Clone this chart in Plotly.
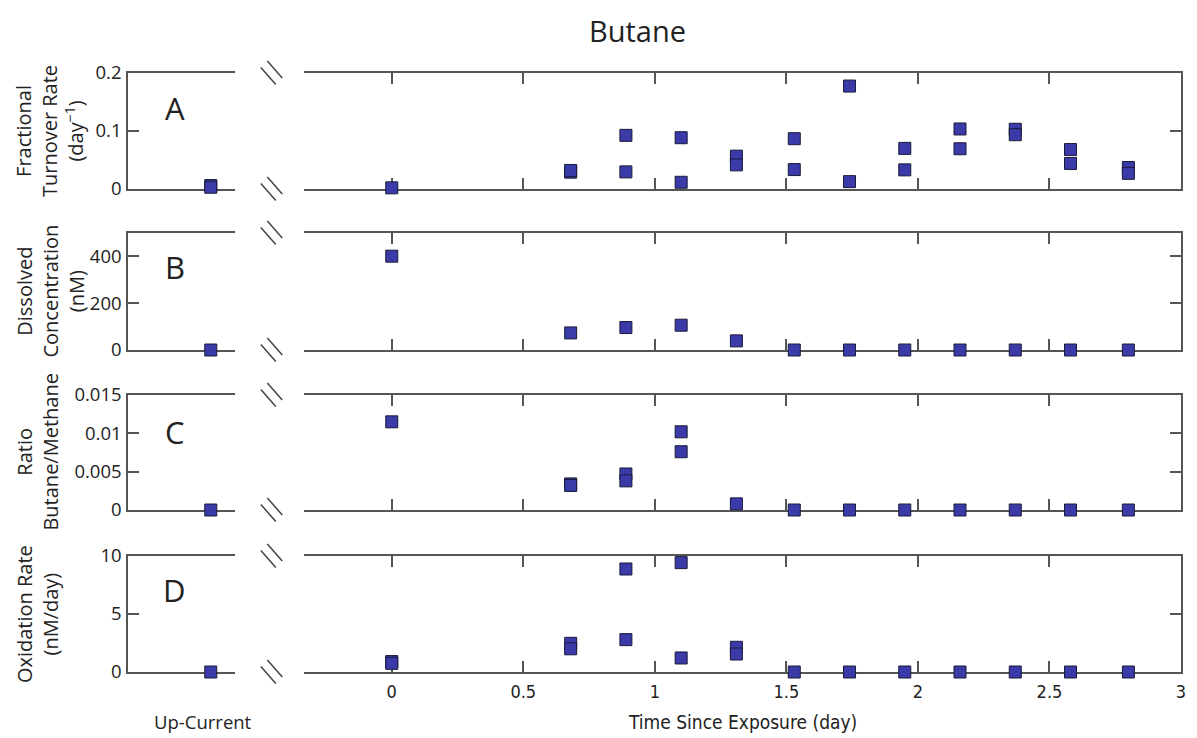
import plotly.graph_objects as go

# ---------------- data ----------------
time_days = [0.0, 0.68, 0.68, 0.89, 0.89, 1.10, 1.10, 1.31, 1.31, 1.53, 1.53, 1.74, 1.74,
             1.95, 1.95, 2.16, 2.16, 2.37, 2.37, 2.58, 2.58, 2.80, 2.80]
turnover = [0.002, 0.029, 0.032, 0.0925, 0.0295, 0.0884, 0.0116, 0.0566, 0.0416, 0.0867, 0.0335,
            0.1775, 0.0127, 0.070, 0.033, 0.1035, 0.0694, 0.103, 0.0936, 0.068, 0.044, 0.037, 0.027]

time_b = [0.0, 0.68, 0.89, 1.10, 1.31, 1.53, 1.74, 1.95, 2.16, 2.37, 2.58, 2.80]
dissolved = [401, 73, 96, 106, 39, 0, 0, 0, 0, 0, 0, 0]

time_c = [0.0, 0.68, 0.68, 0.89, 0.89, 1.10, 1.10, 1.31, 1.53, 1.74, 1.95, 2.16, 2.37, 2.58, 2.80]
ratio = [0.0115, 0.0034, 0.0032, 0.0047, 0.0038, 0.0102, 0.0076, 0.0008, 0, 0, 0, 0, 0, 0, 0]

time_d = [0.0, 0.0, 0.68, 0.68, 0.89, 0.89, 1.10, 1.10, 1.31, 1.31, 1.53, 1.74, 1.95, 2.16, 2.37, 2.58, 2.80]
oxidation = [0.9, 0.75, 2.47, 2.0, 8.88, 2.79, 9.43, 1.21, 2.13, 1.55, 0, 0, 0, 0, 0, 0, 0]

upcurrent_x = [0.77, 0.77]
upcurrent_a = [0.006, 0.003]
upcurrent_b = [0]
upcurrent_c = [0]
upcurrent_d = [0]

x_tickvals = [0, 0.5, 1, 1.5, 2, 2.5, 3]
x_ticktext = ["0", "0.5", "1", "1.5", "2", "2.5", "3"]

panels = [
    dict(letter="A", title="Fractional<br>Turnover Rate<br>(day<sup>−1</sup>)", rng=[0, 0.2],
         tv=[0, 0.1, 0.2], tt=["0", "0.1", "0.2"], x=time_days, y=turnover,
         ux=upcurrent_x, uy=upcurrent_a),
    dict(letter="B", title="Dissolved<br>Concentration<br>(nM)", rng=[0, 500],
         tv=[0, 200, 400], tt=["0", "200", "400"], x=time_b, y=dissolved,
         ux=upcurrent_x[:1], uy=upcurrent_b),
    dict(letter="C", title="Ratio<br>Butane/Methane", rng=[0, 0.015],
         tv=[0, 0.005, 0.01, 0.015], tt=["0", "0.005", "0.01", "0.015"], x=time_c, y=ratio,
         ux=upcurrent_x[:1], uy=upcurrent_c),
    dict(letter="D", title="Oxidation Rate<br>(nM/day)", rng=[0, 10],
         tv=[0, 5, 10], tt=["0", "5", "10"], x=time_d, y=oxidation,
         ux=upcurrent_x[:1], uy=upcurrent_d),
]

# ---------------- layout geometry (pixels) ----------------
W, H = 1197, 738
L, R, T, B = 128, 11, 73, 66
PW, PH = W - L - R, H - T - B
def px(xp): return (xp - L) / PW
def py(yp): return (H - B - yp) / PH

xL_dom = [0, px(236)]
xR_dom = [px(305), 1]
y_px = [(73, 189), (233, 350), (395, 510), (556, 672)]

TEXT = "#222222"
AXC = "#555555"
MCOL = "#3a3aa8"
FONT = "Open Sans, Noto Sans, sans-serif"
NARROW = "DejaVu Sans Condensed, Liberation Sans Narrow, Arial Narrow, Roboto, sans-serif"

fig = go.Figure()
layout = dict(
    width=W, height=H, margin=dict(l=L, r=R, t=T, b=B),
    paper_bgcolor="white", plot_bgcolor="white", showlegend=False,
    font=dict(family=FONT, color=TEXT, size=17),
)
annotations = []
shapes = []

for i, p in enumerate(panels):
    top, bot = y_px[i]
    ydom = [py(bot), py(top)]
    nL = 2 * i + 1
    nR = 2 * i + 2
    sL = "" if nL == 1 else str(nL)
    sR = str(nR)
    # left (up-current) panel
    fig.add_trace(go.Scatter(
        x=p["ux"], y=p["uy"], mode="markers", xaxis="x" + sL, yaxis="y" + sL,
        marker=dict(symbol="square", size=12, color=MCOL, line=dict(color="#1a1a3a", width=1)),
        cliponaxis=False, hoverinfo="skip"))
    # right (time) panel
    fig.add_trace(go.Scatter(
        x=p["x"], y=p["y"], mode="markers", xaxis="x" + sR, yaxis="y" + sR,
        marker=dict(symbol="square", size=12, color=MCOL, line=dict(color="#1a1a3a", width=1)),
        cliponaxis=False, hoverinfo="skip"))

    layout["xaxis" + sL] = dict(
        domain=xL_dom, anchor="y" + sL, range=[0, 1], showline=True, mirror=True,
        linecolor=AXC, linewidth=1.5, ticks="", showticklabels=False, showgrid=False,
        zeroline=False, fixedrange=True, layer="below traces")
    layout["yaxis" + sL] = dict(
        domain=ydom, anchor="x" + sL, range=p["rng"], showline=True, mirror=False,
        linecolor=AXC, linewidth=1.5, ticks="inside", ticklen=11, tickcolor=AXC, tickwidth=1.5,
        tickvals=p["tv"], ticktext=p["tt"], tickfont=dict(family=FONT, size=18.5, color=TEXT),
        showgrid=False, zeroline=False, fixedrange=True, layer="below traces",
        ticklabelstandoff=1)
    layout["xaxis" + sR] = dict(
        domain=xR_dom, anchor="y" + sR, range=[-0.333, 3], showline=True, mirror="ticks",
        linecolor=AXC, linewidth=1.5, ticks="inside", ticklen=11, tickcolor=AXC, tickwidth=1.5,
        tickvals=x_tickvals, ticktext=x_ticktext, showticklabels=(i == 3),
        tickfont=dict(family=NARROW, size=18, color=TEXT), ticklabelstandoff=3,
        showgrid=False, zeroline=False, fixedrange=True, layer="below traces",
        matches=None if i == 3 else "x8")
    layout["yaxis" + sR] = dict(
        domain=ydom, anchor="x" + sR, range=p["rng"], side="right", showline=True,
        linecolor=AXC, linewidth=1.5, ticks="inside", ticklen=11, tickcolor=AXC, tickwidth=1.5,
        tickvals=p["tv"], showticklabels=False, showgrid=False, zeroline=False,
        fixedrange=True, layer="below traces")

    # panel letter
    letter_y = [108, 267, 432, 590][i]
    annotations.append(dict(text=p["letter"], xref="paper", yref="paper", x=px(175), y=py(letter_y),
                            showarrow=False, font=dict(size=31, color=TEXT, family=FONT),
                            xanchor="center", yanchor="middle"))
    # y title
    annotations.append(dict(text=p["title"], xref="paper", yref="paper", x=px(8), y=py((top + bot) / 2),
                            textangle=-90, showarrow=False, xanchor="left", yanchor="middle",
                            font=dict(size=20, color=TEXT, family=FONT)))
    # axis break marks
    for yline in (top, bot):
        for (cx, cy) in ((275.5, yline - 3.5), (269.0, yline + 3.0)):
            shapes.append(dict(type="line", xref="paper", yref="paper",
                               x0=px(cx - 7.5), y0=py(cy - 8.5), x1=px(cx + 7.5), y1=py(cy + 8.5),
                               line=dict(color="#444444", width=1.5)))

annotations.append(dict(text="Butane", xref="paper", yref="paper", x=px(640), y=py(30),
                        showarrow=False, xanchor="center", yanchor="middle",
                        font=dict(size=29, color=TEXT, family=FONT)))
annotations.append(dict(text="Up-Current", xref="paper", yref="paper", x=px(203), y=py(721),
                        showarrow=False, xanchor="center", yanchor="middle",
                        font=dict(size=18.5, color=TEXT, family=FONT)))
annotations.append(dict(text="Time Since Exposure (day)", xref="paper", yref="paper", x=px(745), y=py(722),
                        showarrow=False, xanchor="center", yanchor="middle",
                        font=dict(size=19, color=TEXT, family=NARROW)))

layout["annotations"] = annotations
layout["shapes"] = shapes
fig.update_layout(**layout)
fig.write_html("out.html")
